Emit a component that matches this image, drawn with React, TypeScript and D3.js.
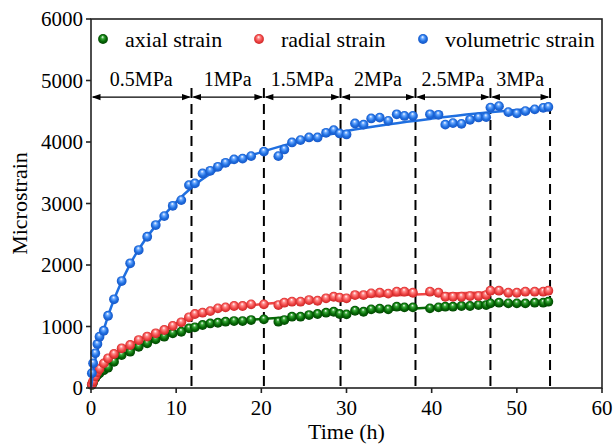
import React from "react";
import * as d3 from "d3";

const T = [0.1,0.25,0.5,0.75,1,1.5,2,2.7,3.6,4.6,5.6,6.6,7.6,8.6,9.6,10.6,11.5,12.2,13.1,14,14.9,15.8,16.8,17.8,18.8,20.3,22,22.7,23.6,24.6,25.6,26.6,27.6,28.5,29.2,30,31,32,32.9,33.9,34.9,35.9,36.8,37.8,39.8,40.8,41.6,42.5,43.5,44.5,45.5,46.4,46.9,47.9,49,50,51,52.1,53.1,53.7];
const volumetric = [240,401,564,715,834,931,1175,1442,1739,2027,2243,2459,2649,2795,2963,3055,3299,3327,3489,3532,3597,3662,3717,3730,3770,3844,3770,3879,3993,4031,4074,4074,4149,4193,4139,4123,4302,4282,4383,4396,4344,4450,4424,4425,4450,4442,4282,4307,4295,4361,4399,4404,4559,4583,4486,4465,4502,4531,4555,4570];
const radial = [60,110,190,260,310,400,483,553,645,699,780,836,889,943,1010,1068,1150,1203,1224,1250,1295,1311,1333,1333,1360,1360,1349,1387,1403,1403,1430,1419,1458,1484,1468,1458,1511,1511,1539,1549,1535,1566,1566,1549,1566,1549,1484,1484,1484,1495,1495,1511,1582,1582,1549,1549,1566,1566,1566,1582];
const axial = [50,90,160,210,240,290,330,427,536,590,671,726,791,834,889,915,970,987,1024,1050,1061,1078,1089,1089,1105,1116,1078,1105,1159,1159,1186,1203,1224,1240,1203,1197,1256,1240,1279,1290,1279,1322,1311,1311,1295,1311,1322,1322,1333,1333,1349,1349,1376,1387,1376,1376,1376,1387,1387,1403];

const fitT = [0,0.3,0.6,1,1.5,2,3,5,8,12,16,20,25,30,35,40,45,50,53.9];
const fitVolumetric = [0,300,520,720,950,1170,1540,2115,2710,3280,3640,3835,4030,4180,4290,4380,4460,4520,4565];
const fitRadial = [0,110,190,280,375,460,580,740,915,1170,1300,1362,1420,1468,1505,1530,1548,1560,1568];
const fitAxial = [0,80,150,220,290,350,465,625,805,980,1078,1120,1170,1220,1268,1308,1342,1372,1398];

const stageBounds = [0, 11.8, 20.3, 29.3, 38.1, 46.9, 53.9];
const stageLabels = ["0.5MPa", "1MPa", "1.5MPa", "2MPa", "2.5MPa", "3MPa"];
const xTicks = [0, 10, 20, 30, 40, 50, 60];
const yTicks = [0, 1000, 2000, 3000, 4000, 5000, 6000];
const seriesNames = ["axial strain", "radial strain", "volumetric strain"];

const W = 614, H = 446;
const M = { left: 91, right: 12, top: 19, bottom: 58 };
const FONT = "'Liberation Serif', 'Times New Roman', serif";

const series = [
  { name: seriesNames[0], values: axial, fit: fitAxial, color: "#066a06", light: "#3aa83a", dark: "#023e02", id: "gA" },
  { name: seriesNames[1], values: radial, fit: fitRadial, color: "#f04646", light: "#ff8a8a", dark: "#c41e1e", id: "gR" },
  { name: seriesNames[2], values: volumetric, fit: fitVolumetric, color: "#1f6fe0", light: "#6aa8ff", dark: "#1650c0", id: "gV" },
];

export default function App() {
  const x = d3.scaleLinear().domain([0, 60]).range([M.left, W - M.right]);
  const y = d3.scaleLinear().domain([0, 6000]).range([H - M.bottom, M.top]);
  const line = d3.line<[number, number]>().x(d => x(d[0])).y(d => y(d[1])).curve(d3.curveMonotoneX);
  const r = 4.9;
  const arrowY = y(4730);
  const dashTop = y(4880);
  const legendY = 40;
  const legendPos = [103, 259, 423];

  const arrowHead = (px: number, dir: number) => {
    const L = 9, hw = 3.2;
    return `M${px},${arrowY} L${px + dir * L},${arrowY - hw} L${px + dir * L},${arrowY + hw} Z`;
  };

  return (
    <svg width={W} height={H} style={{ position: "absolute", left: 0, top: 0, background: "#fff" }} fontFamily={FONT}>
      <defs>
        {series.map(s => (
          <radialGradient key={s.id} id={s.id} cx="0.5" cy="0.5" r="0.55" fx="0.45" fy="0.28">
            <stop offset="0" stopColor="#ffffff" />
            <stop offset="0.28" stopColor={s.light} />
            <stop offset="0.62" stopColor={s.color} />
            <stop offset="1" stopColor={s.dark} />
          </radialGradient>
        ))}
      </defs>
      <rect x={0} y={0} width={W} height={H} fill="#fff" />

      {stageBounds.slice(1).map((b, i) => (
        <line key={"d" + i} x1={x(b)} x2={x(b)} y1={dashTop} y2={y(0)} stroke="#000" strokeWidth={2} strokeDasharray="10,6" />
      ))}

      {stageLabels.map((lab, i) => {
        const a = x(stageBounds[i]), b = x(stageBounds[i + 1]);
        return (
          <g key={"a" + i}>
            <line x1={a + 2} x2={b - 2} y1={arrowY} y2={arrowY} stroke="#000" strokeWidth={1.3} />
            <path d={arrowHead(a + 0.5, 1)} fill="#000" />
            <path d={arrowHead(b - 0.5, -1)} fill="#000" />
            <text x={(a + b) / 2} y={arrowY - 11} textAnchor="middle" fontSize={20} fill="#000">{lab}</text>
          </g>
        );
      })}

      {series.map(s => (
        <g key={s.id}>
          <path d={line(fitT.map((t, i) => [t, s.fit[i]] as [number, number])) || ""} fill="none" stroke={s.color} strokeWidth={2.5} />
          {T.map((t, i) => (
            <circle key={i} cx={x(t)} cy={y(s.values[i])} r={r} fill={`url(#${s.id})`} />
          ))}
        </g>
      ))}

      <rect x={M.left} y={M.top} width={W - M.left - M.right} height={H - M.top - M.bottom} fill="none" stroke="#222" strokeWidth={1.6} />

      {xTicks.map(t => (
        <g key={"x" + t}>
          <line x1={x(t)} x2={x(t)} y1={y(0)} y2={y(0) + 5} stroke="#222" strokeWidth={1.6} />
          <text x={x(t)} y={y(0) + 27} textAnchor="middle" fontSize={21} fill="#000">{t}</text>
        </g>
      ))}
      {yTicks.map(v => (
        <g key={"y" + v}>
          <line x1={M.left - 5} x2={M.left} y1={y(v)} y2={y(v)} stroke="#222" strokeWidth={1.6} />
          <text x={M.left - 8} y={y(v) + 7} textAnchor="end" fontSize={21} fill="#000">{v}</text>
        </g>
      ))}
      <text x={(x(0) + x(60)) / 2} y={H - 7} textAnchor="middle" fontSize={22} fill="#000">Time (h)</text>
      <text transform={`translate(27,${(y(0) + y(6000)) / 2}) rotate(-90)`} textAnchor="middle" fontSize={22} fill="#000">Microstrain</text>

      {series.map((s, i) => (
        <g key={"l" + i}>
          <circle cx={legendPos[i]} cy={legendY - 1} r={r} fill={`url(#${s.id})`} />
          <text x={legendPos[i] + 22} y={legendY + 7} fontSize={22} fill="#000">{s.name}</text>
        </g>
      ))}
    </svg>
  );
}
